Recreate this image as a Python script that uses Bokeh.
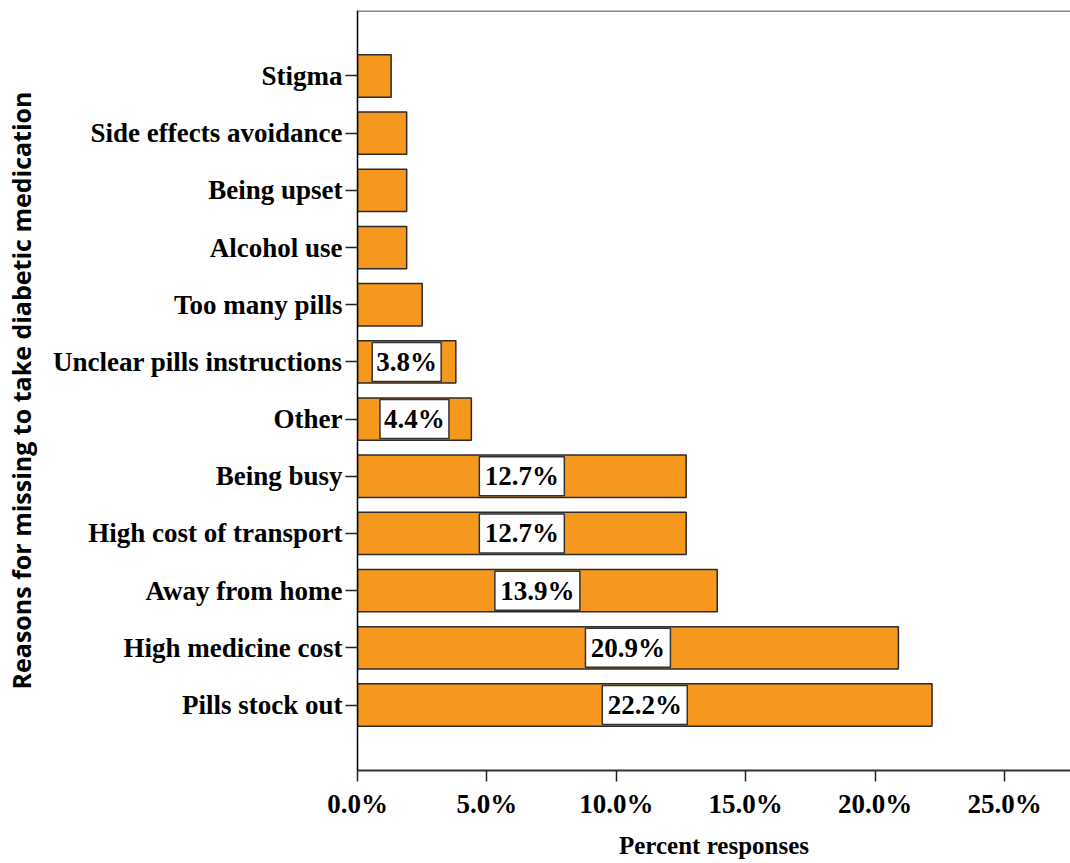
from bokeh.plotting import figure
from bokeh.models import ColumnDataSource, FactorRange, Range1d, FixedTicker, PrintfTickFormatter, Span
from bokeh.core.properties import value
from bokeh.embed import file_html
from bokeh.resources import INLINE

reasons = ["Pills stock out", "High medicine cost", "Away from home", "High cost of transport",
           "Being busy", "Other", "Unclear pills instructions", "Too many pills",
           "Alcohol use", "Being upset", "Side effects avoidance", "Stigma"]
percents = [22.2, 20.9, 13.9, 12.7, 12.7, 4.4, 3.8, 2.5, 1.9, 1.9, 1.9, 1.3]
labels = ["22.2%", "20.9%", "13.9%", "12.7%", "12.7%", "4.4%", "3.8%", "", "", "", "", ""]
x_ticks = [0, 5, 10, 15, 20, 25]

src = ColumnDataSource(dict(y=reasons, right=percents))
lab_idx = [i for i, t in enumerate(labels) if t]
lab_src = ColumnDataSource(dict(y=[reasons[i] for i in lab_idx],
                                x=[percents[i] / 2 for i in lab_idx],
                                t=[labels[i] for i in lab_idx],
                                w=[16 * len(labels[i]) + 5 for i in lab_idx]))

PAD = 0.1075
p = figure(width=1070, height=863, output_backend="svg", toolbar_location=None,
           y_range=FactorRange(factors=reasons, range_padding=PAD, range_padding_units="percent"),
           x_range=Range1d(0, 27.55))
p.min_border_left = 357
p.min_border_top = 10
p.min_border_right = 0
p.min_border_bottom = 93
p.outline_line_color = None
p.background_fill_color = "white"
p.border_fill_color = "white"

p.hbar(y="y", right="right", left=0, height=0.74, source=src,
       fill_color="#F7981E", line_color="#2b2b2b", line_width=1.5)

p.rect(x="x", y="y", width="w", height=39, width_units="screen", height_units="screen",
       source=lab_src, fill_color="white", line_color="#333333", line_width=1.5)
p.text(x="x", y="y", text="t", source=lab_src, text_align="center", text_baseline="middle",
       text_font=value("Liberation Serif"), text_font_style="bold", text_font_size="27px",
       text_color="black")

p.add_layout(Span(location=12.0 + 12 * PAD / 2 - 0.01, dimension="width",
                  line_color="#888888", line_width=2))

p.xgrid.visible = False
p.ygrid.visible = False

ax = p.xaxis[0]
ax.ticker = FixedTicker(ticks=x_ticks)
ax.formatter = PrintfTickFormatter(format="%.1f%%")
ax.minor_tick_line_color = None
ax.major_tick_out = 11
ax.major_tick_in = 0
ax.major_tick_line_color = "#222222"
ax.major_tick_line_width = 1.5
ax.axis_line_color = "#333333"
ax.axis_line_width = 2
ax.major_label_text_font = "Liberation Serif"
ax.major_label_text_font_style = "bold"
ax.major_label_text_font_size = "27px"
ax.major_label_text_color = "black"
ax.major_label_standoff = 7
ax.axis_label = "Percent responses"
ax.axis_label_text_font = "Liberation Serif"
ax.axis_label_text_font_style = "bold"
ax.axis_label_text_font_size = "25px"
ax.axis_label_text_color = "black"
ax.axis_label_standoff = 10

ay = p.yaxis[0]
ay.major_tick_out = 12
ay.major_tick_in = 0
ay.major_tick_line_color = "#222222"
ay.major_tick_line_width = 1.5
ay.axis_line_color = "black"
ay.axis_line_width = 1.5
ay.major_label_text_font = "Liberation Serif"
ay.major_label_text_font_style = "bold"
ay.major_label_text_font_size = "27px"
ay.major_label_text_color = "black"
ay.major_label_standoff = 3
ay.axis_label = "Reasons for missing to take diabetic medication"
ay.axis_label_text_font = "Open Sans"
ay.axis_label_text_font_style = "bold"
ay.axis_label_text_font_size = "25px"
ay.axis_label_text_color = "black"
ay.axis_label_standoff = 12

open("out.html", "w").write(file_html(p, INLINE))
